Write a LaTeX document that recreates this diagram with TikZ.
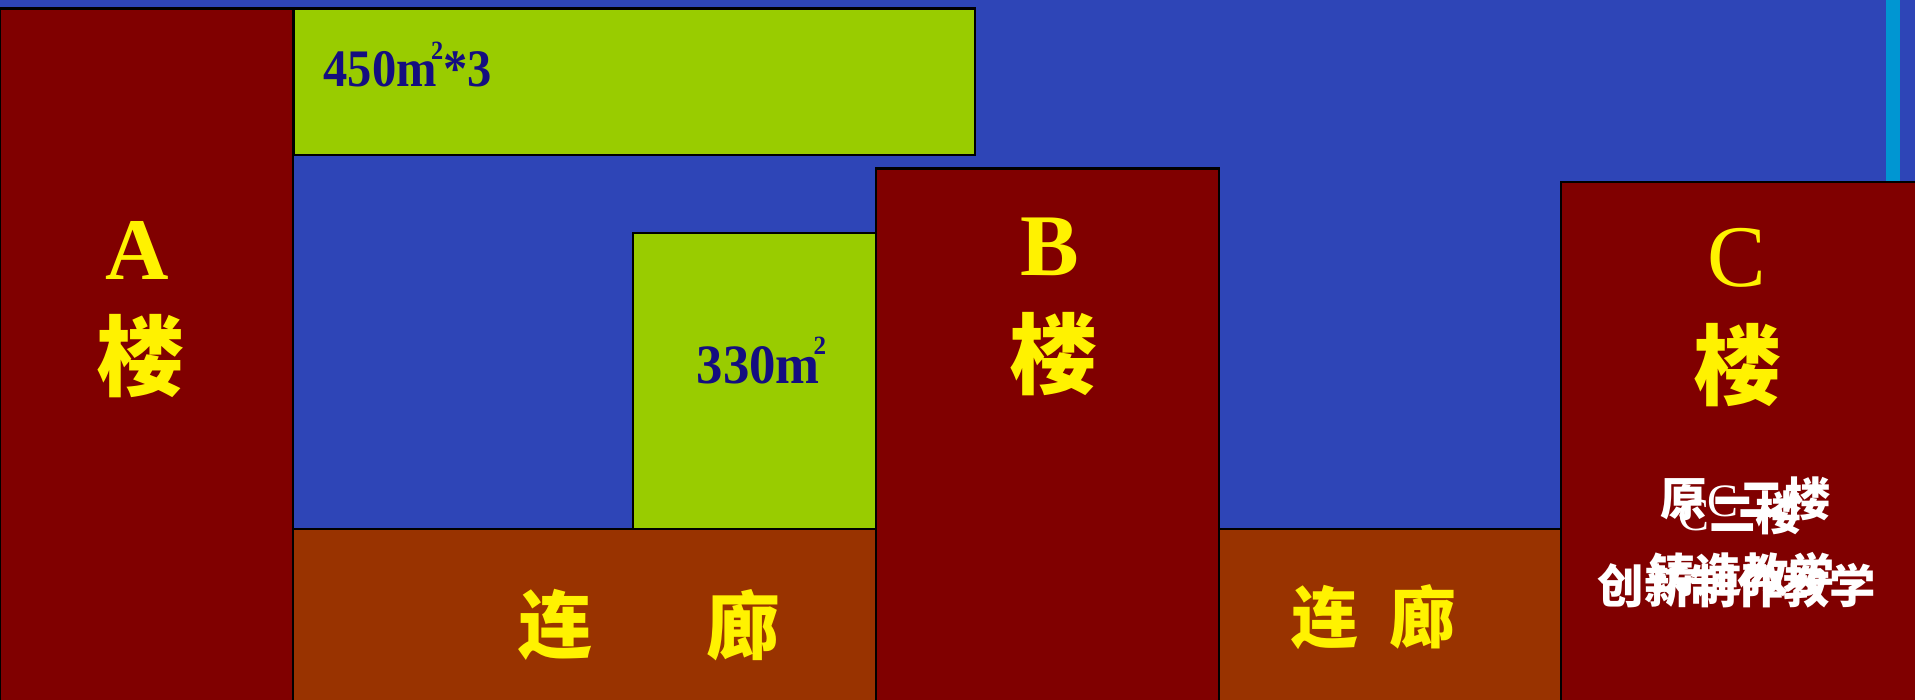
\documentclass[tikz,border=0pt]{standalone}
\usepackage{fontspec}
\setmainfont{Liberation Serif}
\newfontfamily\cjk{Noto Sans CJK SC}
\definecolor{bg}{RGB}{46,69,183}
\definecolor{bldg}{RGB}{128,0,0}
\definecolor{corr}{RGB}{153,51,0}
\definecolor{lawn}{RGB}{153,204,0}
\definecolor{navy}{RGB}{20,14,128}
\definecolor{cyanline}{RGB}{0,150,210}
\begin{document}
\begin{tikzpicture}[x=0.01cm,y=-0.01cm,
  building/.style={fill=bldg,draw=black,line width=0.6pt},
  corridor/.style={fill=corr,draw=black,line width=0.6pt},
  lawnbox/.style={fill=lawn,draw=black,line width=0.6pt},
  letter/.style={text=yellow,inner sep=0pt,font=\fontsize{25}{28}\selectfont\bfseries},
  lou/.style={text=yellow,inner sep=0pt,font=\fontsize{25}{28}\selectfont\cjk\bfseries},
  corrtxt/.style={text=yellow,inner sep=0pt,font=\fontsize{21}{24}\selectfont\cjk\bfseries},
  corrtxtb/.style={text=yellow,inner sep=0pt,font=\fontsize{19}{22}\selectfont\cjk\bfseries},
  area/.style={text=navy,inner sep=0pt,font=\fontsize{15}{18}\selectfont\bfseries},
  note/.style={text=white,inner sep=0pt,font=\fontsize{13.2}{15}\selectfont\cjk\bfseries}
]
\fill[bg] (0,0) rectangle (1915,700);
\useasboundingbox (0,0) rectangle (1915,700);
\fill[cyanline] (1886,0) rectangle (1900,182);
% buildings and areas
\path[building] (0,8.5) rectangle (293,705);
\path[lawnbox] (294,8.5) rectangle (975,155);
\path[lawnbox] (633,233) rectangle (876,529);
\path[corridor] (293,529) rectangle (876,705);
\path[corridor] (1219,529) rectangle (1561,705);
\path[building] (876,168.5) rectangle (1219,705);
\path[building] (1561,182) rectangle (1920,705);
% labels
\node[area,anchor=base west] (g1t) at (323,87) {\scalebox{0.92}[1]{450m\hspace{-0.12em}\raisebox{0.52em}{\fontsize{7.5}{8}\selectfont 2}*3}};
\node[area,anchor=base west,font=\fontsize{15.8}{18}\selectfont\bfseries] (g2t) at (696,383) {\scalebox{0.95}[1]{330m\hspace{-0.12em}\raisebox{0.52em}{\fontsize{7.5}{8}\selectfont 2}}};
\node[letter] (At) at (137,250) {A};
\node[lou] (Al) at (140,356) {楼};
\node[letter] (Bt) at (1050,247) {B};
\node[lou] (Bl) at (1053,354) {楼};
\node[letter,font=\fontsize{25}{28}\selectfont] (Ct) at (1737,258) {C};
\node[lou] (Cl) at (1737,365) {楼};
\node[corrtxt] (c1a) at (555,625) {连};
\node[corrtxt] (c1b) at (743,625) {廊};
\node[corrtxtb] (c2a) at (1325,617) {连};
\node[corrtxtb] (c2b) at (1423,617) {廊};
% overlapping white notes in C
\node[note] (n1a) at (1746,499) {原{\rmfamily\mdseries C}二楼};
\node[note] (n1b) at (1742,575) {铸造教学};
\node[note] (n2a) at (1740,513) {{\rmfamily\mdseries C}二楼};
\node[note] (n2b) at (1737,586) {创新制作教学};
\end{tikzpicture}
\end{document}
